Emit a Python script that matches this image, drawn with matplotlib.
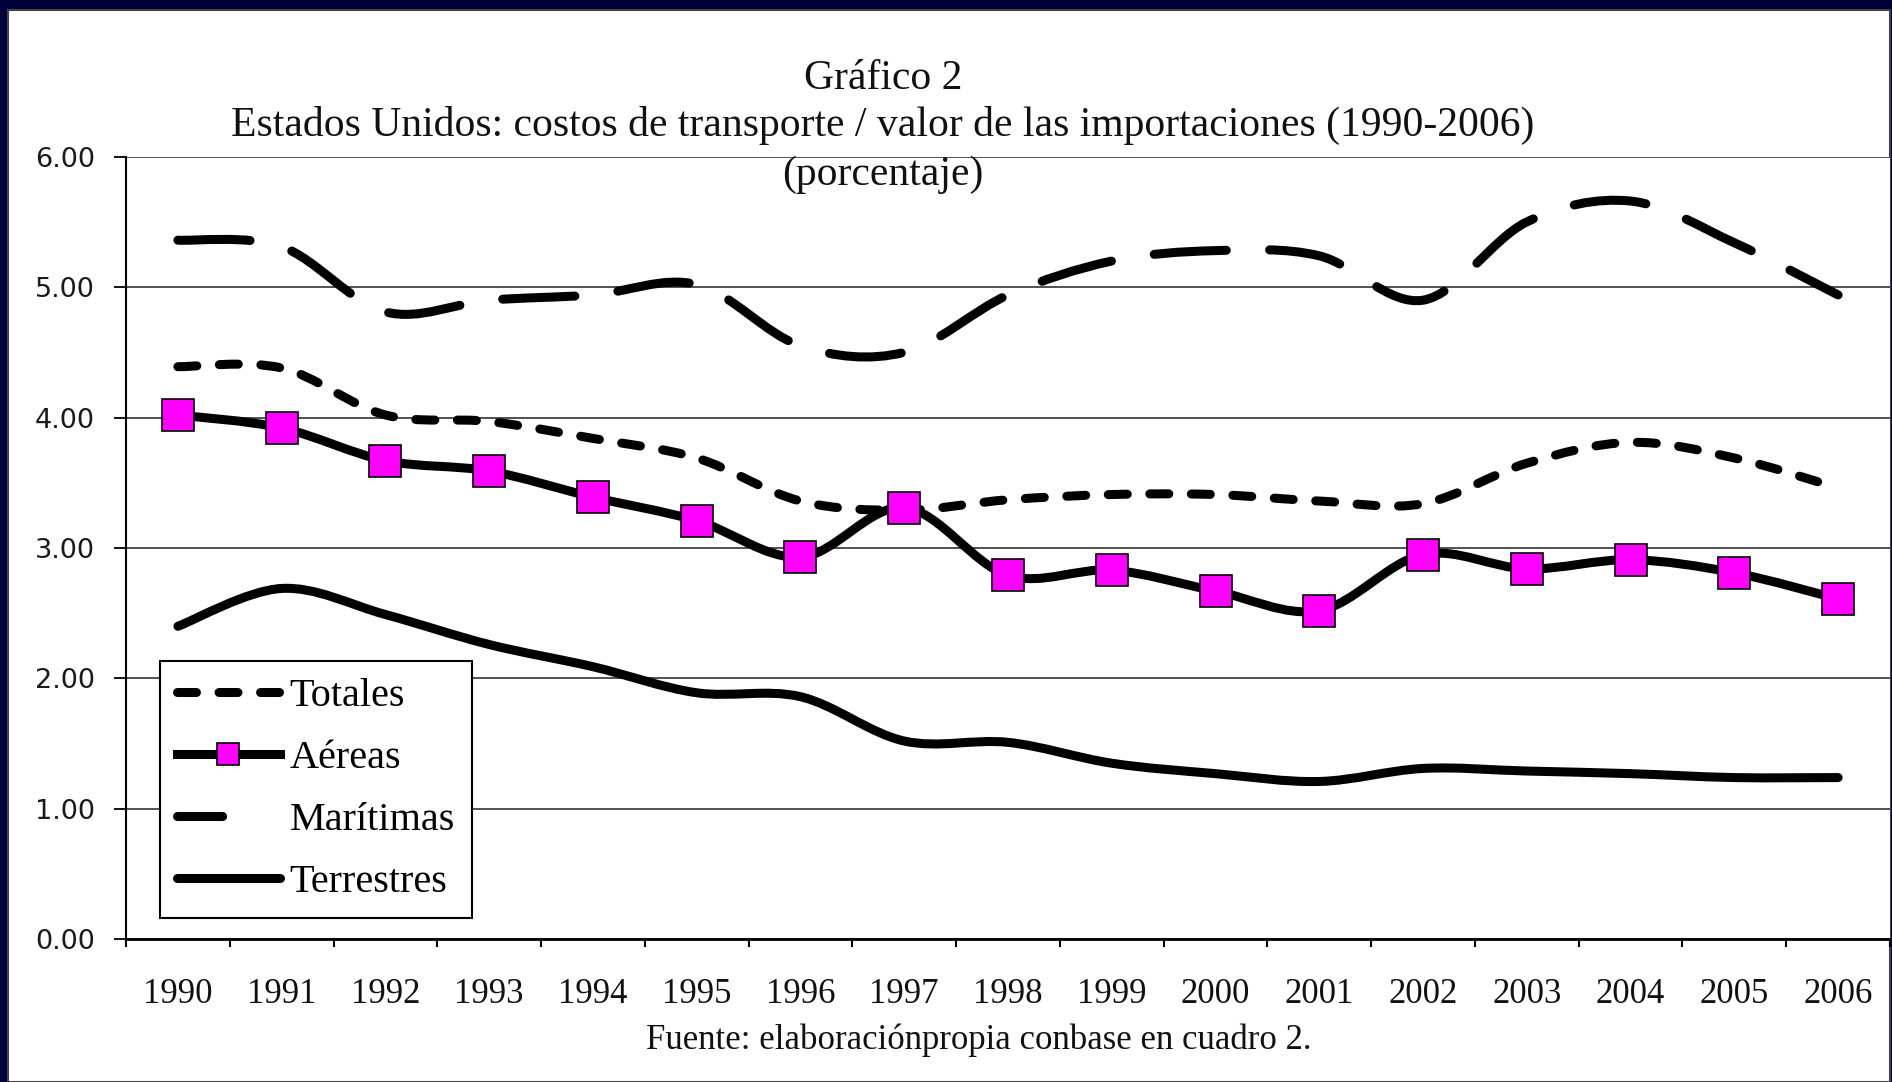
import matplotlib
matplotlib.use("Agg")
import matplotlib.pyplot as plt
from matplotlib.path import Path
from matplotlib.patches import PathPatch, Rectangle
from matplotlib.lines import Line2D
import numpy as np

years = ["1990", "1991", "1992", "1993", "1994", "1995", "1996", "1997", "1998",
         "1999", "2000", "2001", "2002", "2003", "2004", "2005", "2006"]

totales = [4.39, 4.38, 4.02, 3.97, 3.84, 3.69, 3.36, 3.29, 3.37, 3.41, 3.41, 3.36,
           3.34, 3.65, 3.81, 3.69, 3.46]
aereas = [4.02, 3.92, 3.67, 3.59, 3.39, 3.21, 2.93, 3.31, 2.79, 2.83, 2.67, 2.52,
          2.95, 2.84, 2.91, 2.81, 2.61]
maritimas = [5.36, 5.31, 4.81, 4.90, 4.94, 5.02, 4.55, 4.50, 4.94, 5.20, 5.28, 5.24,
             4.90, 5.50, 5.66, 5.34, 4.94]
terrestres = [2.40, 2.69, 2.49, 2.26, 2.09, 1.89, 1.86, 1.52, 1.51, 1.35, 1.27, 1.21,
              1.31, 1.29, 1.27, 1.24, 1.24]

W, H = 1892, 1082
fig = plt.figure(figsize=(W / 100, H / 100), dpi=100, facecolor="#00003c")

# white panel with grey frame
fig.patches.append(Rectangle((8 / W, 0), (1882) / W, (H - 10) / H, transform=fig.transFigure,
                             facecolor="white", edgecolor="#444444", linewidth=1.5, zorder=-10))

ax = fig.add_axes([126 / W, 1 - 939.3 / H, 1764 / W, (939.3 - 156.7) / H])
ax.set_facecolor("white")

x = np.arange(len(years))


def smooth_path(xs, ys):
    # Excel style smoothed line: cubic Bezier segments through every point
    pts = np.column_stack([xs, ys]).astype(float)
    n = len(pts)
    verts = [pts[0]]
    codes = [Path.MOVETO]
    for i in range(n - 1):
        p0 = pts[max(i - 1, 0)]
        p1 = pts[i]
        p2 = pts[i + 1]
        p3 = pts[min(i + 2, n - 1)]
        c1 = p1 + (p2 - p0) / 6.0
        c2 = p2 - (p3 - p1) / 6.0
        verts += [c1, c2, p2]
        codes += [Path.CURVE4] * 3
    return Path(verts, codes)


lw = 6.5
ax.add_patch(PathPatch(smooth_path(x, maritimas), fill=False, edgecolor="black", lw=lw,
                       linestyle=(0, (8.0, 4.8)), capstyle="round", zorder=3))
ax.add_patch(PathPatch(smooth_path(x, totales), fill=False, edgecolor="black", lw=lw,
                       linestyle=(0, (2.1, 2.5)), capstyle="round", zorder=3))
ax.add_patch(PathPatch(smooth_path(x, terrestres), fill=False, edgecolor="black", lw=lw,
                       capstyle="round", zorder=3))
ax.add_patch(PathPatch(smooth_path(x, aereas), fill=False, edgecolor="black", lw=lw,
                       capstyle="round", zorder=3))
ax.plot(x, aereas, linestyle="none", marker="s", markersize=23.5, markerfacecolor="#ff00ff",
        markeredgecolor="black", markeredgewidth=1.2, zorder=4)

ax.set_xlim(-0.5, len(years) - 0.5)
ax.set_ylim(0, 6)
ax.set_yticks(np.arange(0, 7, 1))
ax.set_yticklabels([f"{v:.2f}" for v in np.arange(0, 7, 1)], fontfamily="DejaVu Sans",
                   fontsize=19.5, color="#1a1a1a")
ax.set_xticks(x)
ax.set_xticklabels(years, fontfamily="Liberation Serif", fontsize=25, color="#111111")
ax.set_xticks(np.arange(-0.5, len(years), 1), minor=True)
ax.tick_params(axis="x", which="major", length=0, pad=28)
ax.tick_params(axis="x", which="minor", length=6, width=1.5, color="black")
ax.tick_params(axis="y", length=8.5, width=1.3, color="black", pad=14)

ax.yaxis.grid(True, color="#333333", linewidth=1.2)
ax.set_axisbelow(True)
for s in ["top", "right"]:
    ax.spines[s].set_visible(False)
ax.spines["left"].set_linewidth(1.5)
ax.spines["bottom"].set_linewidth(2)

handles = [
    Line2D([], [], color="black", lw=lw, linestyle=(0, (2.1, 2.5)), dash_capstyle="round"),
    Line2D([], [], color="black", lw=lw, marker="s", markersize=16,
           markerfacecolor="#ff00ff", markeredgecolor="black", markeredgewidth=1.2),
    Line2D([], [], color="black", lw=lw, linestyle=(0, (5.0, 12)), dash_capstyle="round"),
    Line2D([], [], color="black", lw=lw, solid_capstyle="round"),
]
labels = ["Totales", "Aéreas", "Marítimas", "Terrestres"]
leg = ax.legend(handles, labels, loc="lower left", bbox_to_anchor=(0.0193, 0.0268),
                borderaxespad=0, frameon=True, fancybox=False, edgecolor="black",
                facecolor="white", framealpha=1, prop={"family": "Liberation Serif", "size": 29},
                handlelength=2.55, handletextpad=0.25, labelspacing=0.62, borderpad=0.42)
leg.get_frame().set_linewidth(1.5)
leg.set_zorder(5)

fig.text(883 / W, 1 - 79 / H, "Gráfico 2", ha="center", va="center",
         fontfamily="Liberation Serif", fontsize=30, color="#111111")
fig.text(883 / W, 1 - 125 / H,
         "Estados Unidos: costos de transporte / valor de las importaciones (1990-2006)",
         ha="center", va="center", fontfamily="Liberation Serif", fontsize=30, color="#111111")
fig.text(883 / W, 1 - 175 / H, "(porcentaje)", ha="center", va="center",
         fontfamily="Liberation Serif", fontsize=30, color="#111111")
fig.text(979 / W, 1 - 1040 / H, "Fuente: elaboraciónpropia conbase en cuadro 2.",
         ha="center", va="center", fontfamily="Liberation Serif", fontsize=25, color="#111111")

fig.savefig("out.png", dpi=100, facecolor=fig.get_facecolor())
